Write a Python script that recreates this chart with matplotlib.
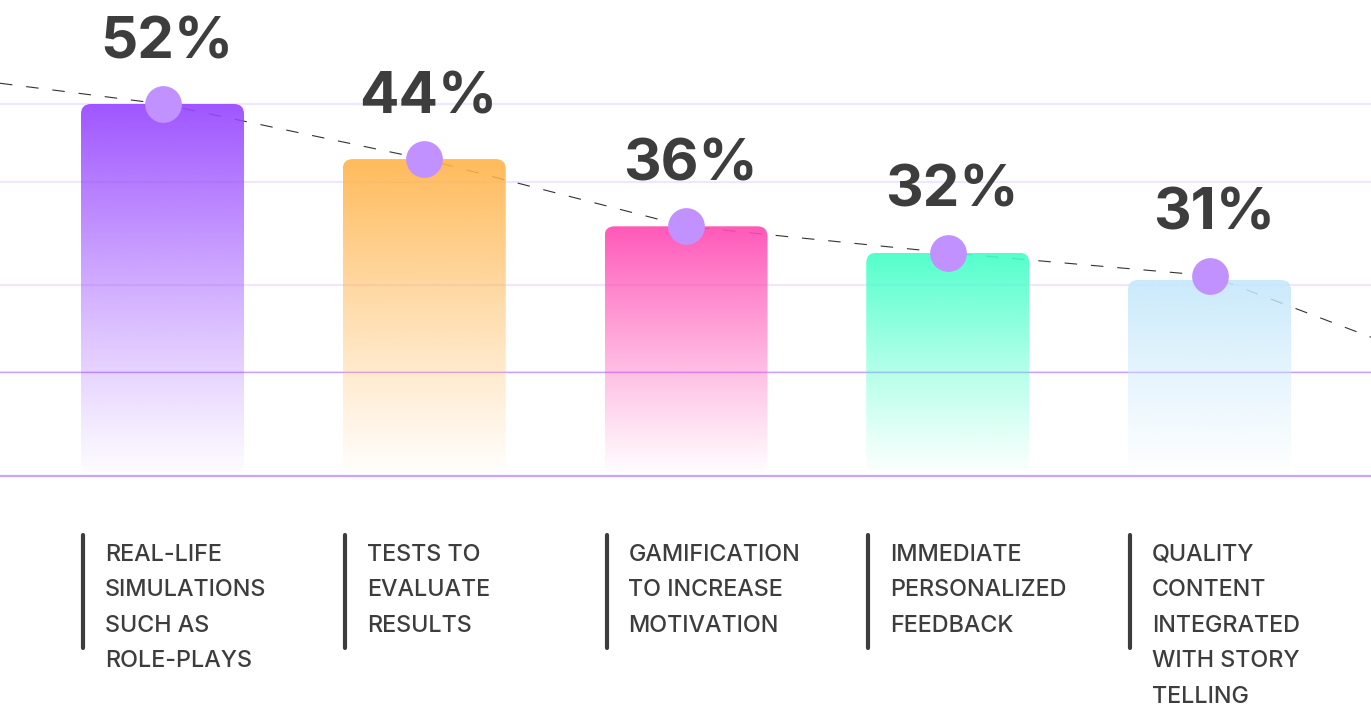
import numpy as np
import matplotlib.pyplot as plt
from matplotlib.patches import FancyBboxPatch

plt.rcParams['font.family'] = ['Inter', 'DejaVu Sans']
plt.rcParams['lines.scale_dashes'] = False

# values shown on top of the bars
values = [52, 44, 36, 32, 31]
# drawn bar heights (the graphic is not to scale)
bar_tops = [52.0, 44.3, 34.9, 31.2, 27.4]
categories = [
    "REAL-LIFE\nSIMULATIONS\nSUCH AS\nROLE-PLAYS",
    "TESTS TO\nEVALUATE\nRESULTS",
    "GAMIFICATION\nTO INCREASE\nMOTIVATION",
    "IMMEDIATE\nPERSONALIZED\nFEEDBACK",
    "QUALITY\nCONTENT\nINTEGRATED\nWITH STORY\nTELLING",
]
colors = ['#9747FF', '#FFB54D', '#FF4AB3', '#45FFC8', '#C6E8FB']
# dashed trend line: left edge, marker heights, right edge
trend_y = [54.9, 52.0, 44.3, 34.9, 31.2, 28.0, 19.4]
faint_grid = [14.5, 26.7, 41.1, 52.0]

W, H = 1371, 714
fig = plt.figure(figsize=(W / 100, H / 100), dpi=100)
ax = fig.add_axes([0, 0, 1, 1])
px_x = 261.75         # pixels per category
px_y = 7.154          # pixels per y unit
xlim = (-162.5 / px_x, -162.5 / px_x + W / px_x)
ylim = (-(H - 476) / px_y, 476 / px_y)
ax.set_xlim(*xlim)
ax.set_ylim(*ylim)
ax.axis('off')

x = np.arange(len(values))
bw = 163 / px_x

# grid lines
for g in faint_grid:
    ax.axhline(g, color='#F1E6FF', lw=1.6, zorder=0)
ax.axhline(14.5, color='#C99CFF', lw=0.9, zorder=0.5)
ax.axhline(0, color='#C9A3FF', lw=1.6, zorder=0.5)

# dashed line through the markers
tx = np.concatenate([[xlim[0]], x, [xlim[1]]])
ty = np.array(trend_y)
ax.plot(tx, ty, color='#333333', lw=0.8, dashes=(9, 10), zorder=1)

# gradient bars
grad = np.linspace(0, 1, 256)[:, None]
for xi, top, c in zip(x, bar_tops, colors):
    rgb = np.array(plt.matplotlib.colors.to_rgb(c))
    img = np.zeros((256, 1, 4))
    img[..., :3] = rgb
    img[..., 3] = 0.02 + 0.9 * grad ** 1.1
    left = xi - bw / 2
    bottom = 0.45
    patch = FancyBboxPatch((left, bottom), bw, top - bottom,
                           boxstyle='round,pad=0,rounding_size=%f' % (10 / px_x),
                           mutation_aspect=px_x / px_y,
                           fc='none', ec='none')
    ax.add_patch(patch)
    im = ax.imshow(img, extent=(left, left + bw, bottom, top), origin='lower',
                   aspect='auto', interpolation='bilinear', zorder=2)
    im.set_clip_path(patch)

# markers sit on the dashed line
ax.scatter(x, ty[1:-1], s=700, color='#C191FF', zorder=4, linewidths=0)

# value labels
for xi, top, v in zip(x, ty[1:-1], values):
    ax.annotate(f"{v}%", (xi, top), xytext=(3, 33), textcoords='offset points',
                ha='center', va='baseline', fontsize=42, fontweight='bold',
                color='#3D3D3D', zorder=5)

# category labels
for xi, lab in zip(x, categories):
    left = xi - bw / 2
    ax.plot([left + 2 / px_x] * 2, [-8.25, -24.0], color='#3D3D3D', lw=3,
            solid_capstyle='round', zorder=3)
    ax.text(left + 24 / px_x, -9.5, lab, ha='left', va='top', fontsize=16.8,
            fontweight='medium', color='#3D3D3D', linespacing=1.79)

fig.savefig('out.png', dpi=100)
